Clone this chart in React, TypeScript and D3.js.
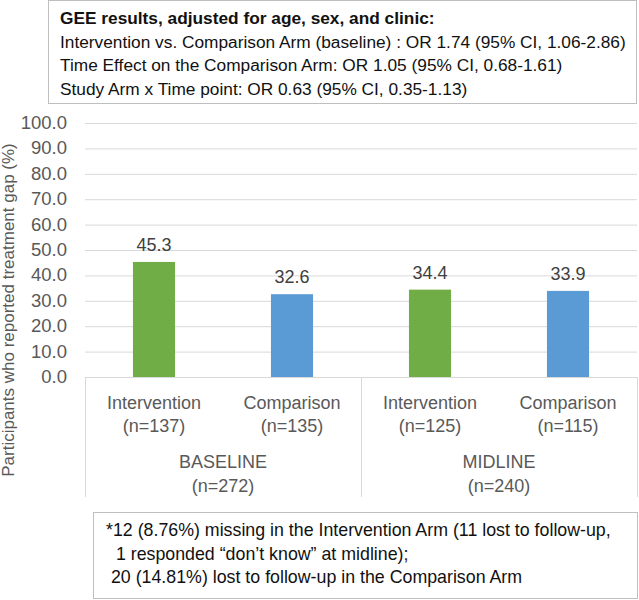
import React from "react";
import * as d3 from "d3";

// chart data
const arms = ["Intervention", "Comparison", "Intervention", "Comparison"];
const armN = ["(n=137)", "(n=135)", "(n=125)", "(n=115)"];
const periods = ["BASELINE", "MIDLINE"];
const periodN = ["(n=272)", "(n=240)"];
const values = [45.3, 32.6, 34.4, 33.9];
const barColors = ["#70ad47", "#5b9bd5", "#70ad47", "#5b9bd5"];
const yTicks = [0, 10, 20, 30, 40, 50, 60, 70, 80, 90, 100];

const topNotes = [
  "GEE results, adjusted for age, sex, and clinic:",
  "Intervention vs. Comparison Arm (baseline) : OR 1.74 (95% CI, 1.06-2.86)",
  "Time Effect on the Comparison Arm: OR 1.05 (95% CI, 0.68-1.61)",
  "Study Arm x Time point: OR 0.63 (95% CI, 0.35-1.13)",
];
const bottomNotes = [
  "*12 (8.76%) missing in the Intervention Arm (11 lost to follow-up,",
  "\u00a0\u00a01 responded \u201cdon\u2019t know\u201d at midline);",
  "\u00a020 (14.81%) lost to follow-up in the Comparison Arm",
];

const W = 639;
const H = 600;
const FONT = "'Liberation Sans', Arial, sans-serif";

const App: React.FC = () => {
  const left = 85;
  const right = 637;
  const top = 123;
  const bottom = 377;
  const catBottom = 497;

  const x = d3
    .scaleBand<number>()
    .domain(d3.range(values.length))
    .range([left, right])
    .paddingInner(0.695)
    .paddingOuter(0.3475);

  const y = d3.scaleLinear().domain([0, 100]).range([bottom, top]);

  const groupX = d3
    .scaleBand<number>()
    .domain(d3.range(periods.length))
    .range([left, right]);

  return (
    <svg
      width={W}
      height={H}
      style={{ position: "absolute", left: 0, top: 0, background: "#fff" }}
      fontFamily={FONT}
    >
      {/* top notes box */}
      <rect x={48.5} y={0.5} width={588} height={103} fill="#fff" stroke="#bfbfbf" />
      {topNotes.map((t, i) => (
        <text
          key={i}
          x={60}
          y={24 + i * 23.5}
          fontSize={17.3}
          fontWeight={i === 0 ? "bold" : "normal"}
          fill="#111"
        >
          {t}
        </text>
      ))}

      {/* gridlines */}
      {yTicks.map((t) => (
        <line
          key={t}
          x1={left}
          x2={right}
          y1={y(t) + 0.5}
          y2={y(t) + 0.5}
          stroke="#d9d9d9"
          strokeWidth={1}
        />
      ))}
      {yTicks.map((t) => (
        <text
          key={"l" + t}
          x={67}
          y={y(t) + 6}
          textAnchor="end"
          fontSize={18.5}
          fill="#595959"
        >
          {d3.format(".1f")(t)}
        </text>
      ))}

      {/* bars */}
      {values.map((v, i) => (
        <g key={i}>
          <rect
            x={x(i)}
            y={y(v)}
            width={x.bandwidth()}
            height={y(0) - y(v)}
            fill={barColors[i]}
          />
          <text
            x={(x(i) as number) + x.bandwidth() / 2}
            y={y(v) - 11}
            textAnchor="middle"
            fontSize={18}
            fill="#404040"
          >
            {d3.format(".1f")(v)}
          </text>
        </g>
      ))}

      {/* category axis */}
      {[0, 1, 2].map((k) => {
        const px = k < 2 ? (groupX(k) as number) : right;
        return (
          <line
            key={k}
            x1={px + 0.5}
            x2={px + 0.5}
            y1={bottom}
            y2={catBottom}
            stroke="#d9d9d9"
          />
        );
      })}
      {arms.map((a, i) => {
        const cx = (x(i) as number) + x.bandwidth() / 2;
        return (
          <g key={"c" + i} fontSize={18} fill="#595959" textAnchor="middle">
            <text x={cx} y={409}>
              {a}
            </text>
            <text x={cx} y={432}>
              {armN[i]}
            </text>
          </g>
        );
      })}
      {periods.map((p, k) => {
        const cx = (groupX(k) as number) + groupX.bandwidth() / 2;
        return (
          <g key={"p" + k} fontSize={18} fill="#595959" textAnchor="middle">
            <text x={cx} y={468}>
              {p}
            </text>
            <text x={cx} y={492}>
              {periodN[k]}
            </text>
          </g>
        );
      })}

      {/* y axis title */}
      <text
        transform={`translate(14, ${(top + catBottom) / 2}) rotate(-90)`}
        textAnchor="middle"
        fontSize={17}
        fill="#595959"
      >
        Participants who reported treatment gap (%)
      </text>

      {/* bottom notes box */}
      <rect x={93.5} y={512.5} width={544} height={86} fill="#fff" stroke="#bfbfbf" />
      {bottomNotes.map((t, i) => (
        <text key={"b" + i} x={106} y={536 + i * 23.5} fontSize={17.8} fill="#111">
          {t}
        </text>
      ))}
    </svg>
  );
};

export default App;
